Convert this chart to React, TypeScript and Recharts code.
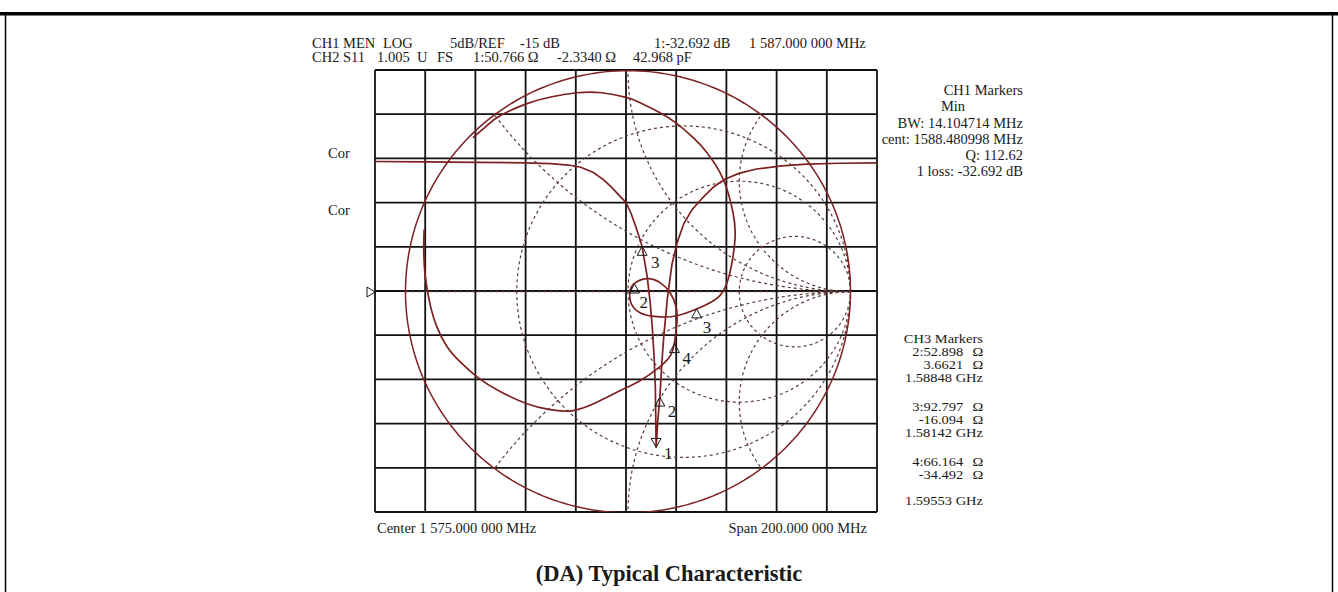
import React from 'react';
import { ComposedChart, Line, Scatter, XAxis, YAxis, CartesianGrid } from 'recharts';

// ---------- axes (CH1 log-mag display: 20 MHz/div, 5 dB/div) ----------
const freqTicks = [1475, 1495, 1515, 1535, 1555, 1575, 1595, 1615, 1635, 1655, 1675];
const dbTicks = [-40, -35, -30, -25, -20, -15, -10, -5, 0, 5, 10];

// ---------- CH1 log magnitude trace (MHz, dB) ----------
const logMagTrace = [
  { f: 1475, db: -0.35 }, { f: 1495, db: -0.4 }, { f: 1515, db: -0.45 }, { f: 1535, db: -0.5 },
  { f: 1545, db: -0.6 }, { f: 1552, db: -0.75 }, { f: 1557, db: -1.0 }, { f: 1562, db: -1.6 },
  { f: 1566, db: -2.4 }, { f: 1569, db: -3.2 }, { f: 1572, db: -4.1 }, { f: 1575, db: -5.0 },
  { f: 1577, db: -6.2 }, { f: 1579, db: -7.8 }, { f: 1581.4, db: -9.95 }, { f: 1583.4, db: -13.3 },
  { f: 1584.6, db: -16.2 }, { f: 1585.5, db: -19.2 }, { f: 1586.2, db: -22.5 }, { f: 1586.7, db: -26.0 },
  { f: 1587.0, db: -32.69 }, { f: 1587.7, db: -29.5 }, { f: 1588.5, db: -27.0 }, { f: 1589.2, db: -23.5 },
  { f: 1590.0, db: -20.3 }, { f: 1591.5, db: -15.8 }, { f: 1593.3, db: -12.0 }, { f: 1595.3, db: -9.6 },
  { f: 1598, db: -7.4 }, { f: 1601.3, db: -5.8 }, { f: 1605.7, db: -4.4 }, { f: 1610, db: -3.2 },
  { f: 1614.4, db: -2.35 }, { f: 1620, db: -1.7 }, { f: 1627, db: -1.2 }, { f: 1637, db: -0.85 },
  { f: 1647, db: -0.65 }, { f: 1660, db: -0.55 }, { f: 1675, db: -0.5 },
];

// ---------- CH2 S11 Smith trace (reflection coefficient Re, Im) ----------
const smithTrace = [
  { u: -0.697, v: 0.697 }, { u: -0.634, v: 0.751 }, { u: -0.575, v: 0.796 }, { u: -0.454, v: 0.851 },
  { u: -0.342, v: 0.882 }, { u: -0.229, v: 0.9 }, { u: -0.117, v: 0.9 }, { u: -0.004, v: 0.878 },
  { u: 0.054, v: 0.855 }, { u: 0.14, v: 0.812 }, { u: 0.22, v: 0.76 }, { u: 0.3, v: 0.69 },
  { u: 0.355, v: 0.629 }, { u: 0.427, v: 0.511 }, { u: 0.472, v: 0.357 }, { u: 0.481, v: 0.24 },
  { u: 0.458, v: 0.086 }, { u: 0.413, v: -0.018 }, { u: 0.324, v: -0.072 }, { u: 0.22, v: -0.109 },
  { u: 0.13, v: -0.113 }, { u: 0.054, v: -0.095 }, { u: 0.013, v: -0.05 }, { u: 0.009, v: 0.0 },
  { u: 0.027, v: 0.036 }, { u: 0.085, v: 0.059 }, { u: 0.144, v: 0.041 }, { u: 0.189, v: -0.005 },
  { u: 0.216, v: -0.068 }, { u: 0.22, v: -0.136 }, { u: 0.211, v: -0.217 }, { u: 0.193, v: -0.285 },
  { u: 0.144, v: -0.339 }, { u: 0.054, v: -0.403 }, { u: -0.036, v: -0.448 }, { u: -0.135, v: -0.498 },
  { u: -0.247, v: -0.538 }, { u: -0.351, v: -0.534 }, { u: -0.454, v: -0.507 }, { u: -0.575, v: -0.452 },
  { u: -0.674, v: -0.389 }, { u: -0.755, v: -0.317 }, { u: -0.813, v: -0.249 }, { u: -0.863, v: -0.149 },
  { u: -0.894, v: -0.036 }, { u: -0.912, v: 0.077 }, { u: -0.918, v: 0.19 }, { u: -0.916, v: 0.281 },
];

// ---------- Smith graticule values ----------
const resistanceCircles = [1 / 3, 1, 3];
const reactanceArcs = [0.5, 1, 2, -0.5, -1, -2];

// ---------- markers ----------
const logMagMarkers = [
  { f: 1581.42, db: -9.95, label: '3', dir: 'up' },
  { f: 1587.0, db: -32.692, label: '1', dir: 'down' },
  { f: 1588.48, db: -27.0, label: '2', dir: 'up' },
];
const smithMarkerImpedance = [
  { label: '2', r: 52.898, x: 3.6621 },
  { label: '3', r: 92.797, x: -16.094 },
  { label: '4', r: 66.164, x: -34.492 },
];

// ---------- text ----------
const header1 = [
  { x: 312, t: 'CH1 MEN' }, { x: 383, t: 'LOG' }, { x: 450, t: '5dB/REF' }, { x: 520, t: '-15 dB' },
  { x: 654, t: '1:-32.692 dB' }, { x: 749, t: '1 587.000 000 MHz' },
];
const header2 = [
  { x: 312, t: 'CH2 S11' }, { x: 377, t: '1.005' }, { x: 417, t: 'U' }, { x: 437, t: 'FS' },
  { x: 473, t: '1:50.766 Ω' }, { x: 557, t: '-2.3340 Ω' }, { x: 633, t: '42.968 pF' },
];
const ch1Lines = ['BW: 14.104714 MHz', 'cent: 1588.480998 MHz', 'Q:  112.62', '1 loss:  -32.692 dB'];
const ch3Groups = [
  ['2:52.898', '3.6621', '1.58848 GHz'],
  ['3:92.797', '-16.094', '1.58142 GHz'],
  ['4:66.164', '-34.492', '', '1.59553 GHz'],
];

// ---------- helpers: graticule geometry ----------
const rCirclePoints = (r: number) => {
  const c = r / (1 + r), rad = 1 / (1 + r);
  return Array.from({ length: 145 }, (_, i) => {
    const t = (i / 144) * 2 * Math.PI;
    return { u: c + rad * Math.cos(t), v: rad * Math.sin(t) };
  });
};
const xArcPoints = (x: number) => {
  const cy = 1 / x, rad = Math.abs(1 / x);
  const ix = (x * x - 1) / (x * x + 1), iy = (2 * x) / (x * x + 1);
  const a0 = Math.atan2(-cy, 0);
  let a1 = Math.atan2(iy - cy, ix - 1);
  if (x > 0) { while (a1 > a0) a1 -= 2 * Math.PI; } else { while (a1 < a0) a1 += 2 * Math.PI; }
  return Array.from({ length: 97 }, (_, i) => {
    const a = a0 + ((a1 - a0) * i) / 96;
    return { u: 1 + rad * Math.cos(a), v: cy + rad * Math.sin(a) };
  });
};
const unitCircle = Array.from({ length: 241 }, (_, i) => {
  const t = (i / 240) * 2 * Math.PI;
  return { u: Math.cos(t), v: Math.sin(t) };
});
const realAxis = [{ u: -1, v: 0 }, { u: 1, v: 0 }];
const smithMarkers = smithMarkerImpedance.map((m) => {
  const zr = m.r / 50, zx = m.x / 50;
  const nr = zr - 1, dr = zr + 1;
  const den = dr * dr + zx * zx;
  return { label: m.label, dir: 'up', u: (nr * dr + zx * zx) / den, v: (zx * dr - nr * zx) / den };
});

const TRACE = '#7d2020';
const GRAT = '#5e3a3a';
const FONT = "'Liberation Serif', 'Times New Roman', serif";

const labelOffset: Record<string, { dx: number; dy: number }> = {
  'L3': { dx: 9, dy: 22 }, 'L1': { dx: 8, dy: 12 }, 'L2': { dx: 8, dy: 20 },
  'S2': { dx: 5, dy: 24 }, 'S3': { dx: 6, dy: 24 }, 'S4': { dx: 8, dy: 20 },
};

const makeShape = (prefix: string) => (props: any) => {
  const { cx, cy, payload } = props;
  if (cx == null || cy == null) return <g />;
  const up = payload.dir !== 'down';
  const s = 5, h = 9;
  const d = up
    ? `M${cx},${cy} L${cx - s},${cy + h} L${cx + s},${cy + h} Z`
    : `M${cx},${cy} L${cx - s},${cy - h} L${cx + s},${cy - h} Z`;
  const off = labelOffset[prefix + payload.label] || { dx: 8, dy: 20 };
  return (
    <g>
      <path d={d} fill="none" stroke="#1a1a1a" strokeWidth={1} />
      <text x={cx + off.dx} y={cy + off.dy} fontFamily={FONT} fontSize={17} fill="#1a1a1a">{payload.label}</text>
    </g>
  );
};

export default function App() {
  const ch3Base = [356, 411, 466];
  return (
    <div style={{ position: 'absolute', left: 0, top: 0, width: 1338, height: 592, background: '#fff' }}>
      <ComposedChart width={1338} height={592} margin={{ top: 70, right: 461, bottom: 80, left: 375 }}>
        <XAxis xAxisId="f" dataKey="f" type="number" domain={[1475, 1675]} ticks={freqTicks} allowDataOverflow hide />
        <YAxis yAxisId="db" dataKey="db" type="number" domain={[-40, 10]} ticks={dbTicks} allowDataOverflow hide />
        <XAxis xAxisId="g" dataKey="u" type="number" domain={[-1.137, 1.119]} allowDataOverflow hide />
        <YAxis yAxisId="g" dataKey="v" type="number" domain={[-0.997, 1.003]} allowDataOverflow hide />
        <CartesianGrid xAxisId="f" yAxisId="db" stroke="#111" strokeWidth={1.8} />
        {resistanceCircles.map((r, i) => (
          <Line key={'r' + i} xAxisId="g" yAxisId="g" data={rCirclePoints(r)} dataKey="v" type="linear"
            stroke={GRAT} strokeWidth={1.2} strokeDasharray="3 3" dot={false} isAnimationActive={false} />
        ))}
        {reactanceArcs.map((x, i) => (
          <Line key={'x' + i} xAxisId="g" yAxisId="g" data={xArcPoints(x)} dataKey="v" type="linear"
            stroke={GRAT} strokeWidth={1.2} strokeDasharray="3 3" dot={false} isAnimationActive={false} />
        ))}
        <Line xAxisId="g" yAxisId="g" data={realAxis} dataKey="v" type="linear" stroke={GRAT} strokeWidth={1.2}
          strokeDasharray="3 3" dot={false} isAnimationActive={false} />
        <Line xAxisId="g" yAxisId="g" data={unitCircle} dataKey="v" type="linear" stroke={TRACE} strokeWidth={1.5}
          dot={false} isAnimationActive={false} />
        <Line xAxisId="g" yAxisId="g" data={smithTrace} dataKey="v" type="natural" stroke={TRACE} strokeWidth={1.7}
          dot={false} isAnimationActive={false} />
        <Line xAxisId="f" yAxisId="db" data={logMagTrace} dataKey="db" type="linear" stroke={TRACE} strokeWidth={1.7}
          dot={false} isAnimationActive={false} />
        <Scatter xAxisId="f" yAxisId="db" data={logMagMarkers} dataKey="db" shape={makeShape('L')} isAnimationActive={false} />
        <Scatter xAxisId="g" yAxisId="g" data={smithMarkers} dataKey="v" shape={makeShape('S')} isAnimationActive={false} />
      </ComposedChart>
      <svg width={1338} height={592} style={{ position: 'absolute', left: 0, top: 0, pointerEvents: 'none' }}
        fontFamily={FONT} fill="#1a1a1a">
        <rect x={0} y={12} width={1338} height={3.5} fill="#000" />
        <line x1={5.5} y1={14} x2={5.5} y2={592} stroke="#000" strokeWidth={1.5} />
        <line x1={1332.5} y1={14} x2={1332.5} y2={592} stroke="#000" strokeWidth={1.5} />
        <g fontSize={14.5}>
          {header1.map((s, i) => <text key={'h1' + i} x={s.x} y={48}>{s.t}</text>)}
          {header2.map((s, i) => <text key={'h2' + i} x={s.x} y={62}>{s.t}</text>)}
          <text x={328} y={158}>Cor</text>
          <text x={328} y={215}>Cor</text>
          <text x={1023} y={95} textAnchor="end">CH1 Markers</text>
          <text x={953} y={111} textAnchor="middle">Min</text>
          {ch1Lines.map((t, i) => <text key={'c1' + i} x={1023} y={128 + i * 16} textAnchor="end">{t}</text>)}
          <text x={377} y={533}>Center 1 575.000 000 MHz</text>
          <text x={867} y={533} textAnchor="end">Span 200.000 000 MHz</text>
        </g>
        <g fontSize={12.5} transform="translate(983,0) scale(1.16,1) translate(-983,0)">
          <text x={983} y={343} textAnchor="end">CH3 Markers</text>
          {ch3Groups.map((g, gi) => g.map((t, li) => {
            const y = ch3Base[gi] + li * 13;
            if (!t) return null;
            if (t.endsWith('GHz')) return <text key={gi + '-' + li} x={983} y={y} textAnchor="end">{t}</text>;
            return (
              <g key={gi + '-' + li}>
                <text x={966} y={y} textAnchor="end">{t}</text>
                <text x={974} y={y}>Ω</text>
              </g>
            );
          }))}
        </g>
        <path d="M367,287 L375,292 L367,297 Z" fill="none" stroke="#1a1a1a" strokeWidth={1} />
        <text x={669} y={581} textAnchor="middle" fontSize={22.5} fontWeight="bold">(DA) Typical Characteristic</text>
      </svg>
    </div>
  );
}
